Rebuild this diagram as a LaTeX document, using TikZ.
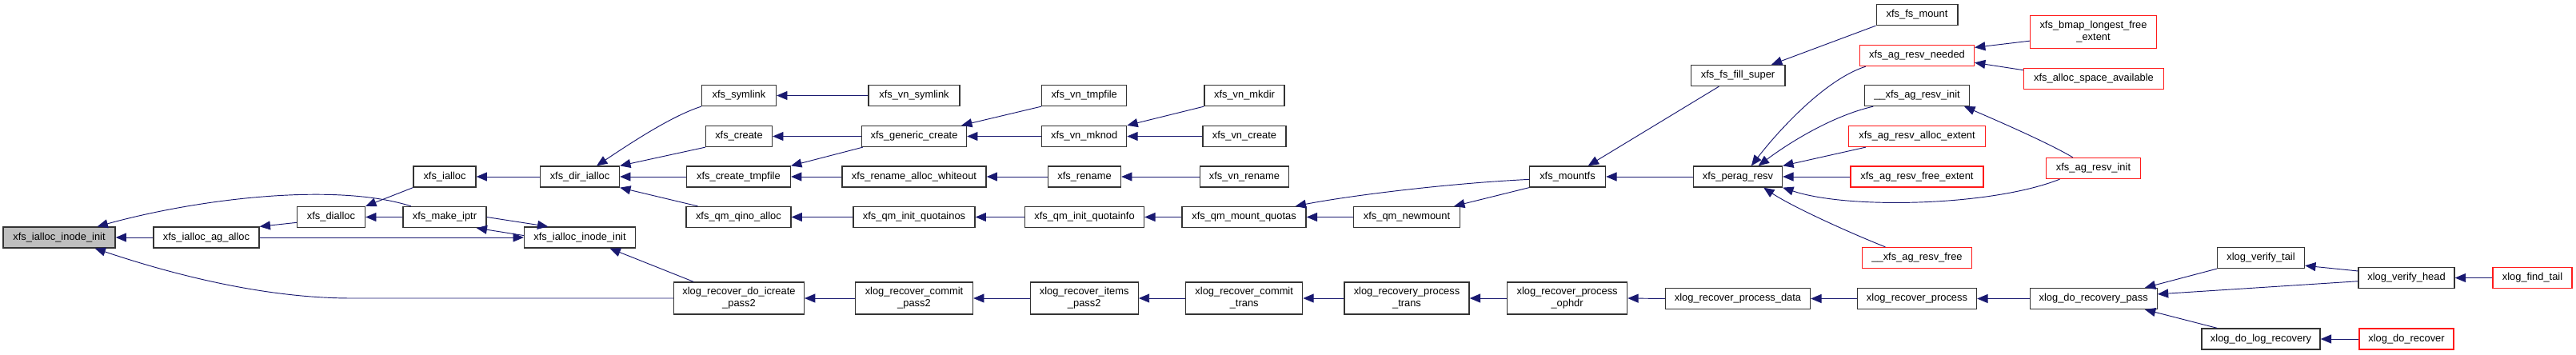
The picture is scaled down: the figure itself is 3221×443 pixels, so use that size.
\documentclass[tikz,border=0pt]{standalone}
\usepackage{fontspec}
\setmainfont{Liberation Sans}
\usetikzlibrary{arrows.meta}
\definecolor{callblue}{HTML}{191970}
\definecolor{nodered}{HTML}{FF1A1A}
\definecolor{nodegray}{HTML}{BFBFBF}
\begin{document}
\begin{tikzpicture}[x=0.03cm, y=-0.03cm,
  fnbox/.style={draw=black!80, fill=white, line width=1.1pt, inner sep=0pt, minimum height=0.78cm, align=center, font=\fontsize{11}{12.8}\selectfont},
  fnred/.style={fnbox, draw=nodered},
  fnmain/.style={fnbox, fill=nodegray},
  calls/.style={{Triangle[length=0.4cm,width=0.33cm]}-, draw=callblue, line width=0.8pt}]
\useasboundingbox (0,0) rectangle (3221,443);
% inode init and its direct callers
\node[fnmain, minimum width=4.2cm] (init) at (74,297) {xfs\_ialloc\_inode\_init};
\node[fnbox, minimum width=3.96cm] (agalloc) at (258,297) {xfs\_ialloc\_ag\_alloc};
\node[fnbox, minimum width=2.55cm] (dialloc) at (414,271.5) {xfs\_dialloc};
\node[fnbox, minimum width=2.34cm] (ialloc) at (556,221) {xfs\_ialloc};
\node[fnbox, minimum width=3.12cm] (makeiptr) at (556,271.5) {xfs\_make\_iptr};
\node[fnbox, minimum width=4.17cm] (initb) at (725,297) {xfs\_ialloc\_inode\_init};
\node[fnbox, minimum width=2.97cm] (dirialloc) at (725,221) {xfs\_dir\_ialloc};
% create / rename column
\node[fnbox, minimum width=2.79cm] (symlink) at (924,119.5) {xfs\_symlink};
\node[fnbox, minimum width=2.49cm] (create) at (924,170.5) {xfs\_create};
\node[fnbox, minimum width=3.9cm] (createtmp) at (923.4,221) {xfs\_create\_tmpfile};
\node[fnbox, minimum width=3.93cm] (qinoalloc) at (923.4,271.5) {xfs\_qm\_qino\_alloc};
\node[fnbox, minimum width=4.88cm, minimum height=1.2cm] (icreate) at (924,373) {xlog\_recover\_do\_icreate\\\_pass2};
\node[fnbox, minimum width=3.42cm] (vnsymlink) at (1143,119.5) {xfs\_vn\_symlink};
\node[fnbox, minimum width=3.93cm] (genericcreate) at (1143,170.5) {xfs\_generic\_create};
\node[fnbox, minimum width=5.4cm] (whiteout) at (1143,221) {xfs\_rename\_alloc\_whiteout};
\node[fnbox, minimum width=4.56cm] (quotainos) at (1143,271.5) {xfs\_qm\_init\_quotainos};
\node[fnbox, minimum width=4.41cm, minimum height=1.2cm] (commitpass2) at (1143,373) {xlog\_recover\_commit\\\_pass2};
\node[fnbox, minimum width=3.18cm] (vntmpfile) at (1355.7,119.5) {xfs\_vn\_tmpfile};
\node[fnbox, minimum width=3.18cm] (vnmknod) at (1355.7,170.5) {xfs\_vn\_mknod};
\node[fnbox, minimum width=2.73cm] (rename) at (1356,221) {xfs\_rename};
\node[fnbox, minimum width=4.47cm] (quotainfo) at (1356,271.5) {xfs\_qm\_init\_quotainfo};
\node[fnbox, minimum width=4.05cm, minimum height=1.2cm] (itemspass2) at (1355.7,373) {xlog\_recover\_items\\\_pass2};
\node[fnbox, minimum width=3cm] (vnmkdir) at (1556,119.5) {xfs\_vn\_mkdir};
\node[fnbox, minimum width=3.12cm] (vncreate) at (1556,170.5) {xfs\_vn\_create};
\node[fnbox, minimum width=3.33cm] (vnrename) at (1556,221) {xfs\_vn\_rename};
\node[fnbox, minimum width=4.65cm] (mountquotas) at (1555.5,271.5) {xfs\_qm\_mount\_quotas};
\node[fnbox, minimum width=4.38cm, minimum height=1.2cm] (committrans) at (1555.7,373) {xlog\_recover\_commit\\\_trans};
% mount and log recovery
\node[fnbox, minimum width=3.98cm] (newmount) at (1759,271.5) {xfs\_qm\_newmount};
\node[fnbox, minimum width=4.68cm, minimum height=1.2cm] (processtrans) at (1759,373) {xlog\_recovery\_process\\\_trans};
\node[fnbox, minimum width=2.85cm] (mountfs) at (1960,221) {xfs\_mountfs};
\node[fnbox, minimum width=4.5cm, minimum height=1.2cm] (ophdr) at (1959.6,373) {xlog\_recover\_process\\\_ophdr};
\node[fnbox, minimum width=3.53cm] (fillsuper) at (2173,94.5) {xfs\_fs\_fill\_super};
\node[fnbox, minimum width=3.33cm] (peragresv) at (2173,221) {xfs\_perag\_resv};
\node[fnbox, minimum width=5.43cm] (processdata) at (2173,373.5) {xlog\_recover\_process\_data};
\node[fnbox, minimum width=3.05cm] (fsmount) at (2397,18.5) {xfs\_fs\_mount};
\node[fnred, minimum width=4.28cm] (resvneeded) at (2397,69.5) {xfs\_ag\_resv\_needed};
\node[fnbox, minimum width=3.93cm] (resvinitu) at (2397,119.5) {\_\_xfs\_ag\_resv\_init};
\node[fnred, minimum width=5.13cm] (allocextent) at (2397,170.5) {xfs\_ag\_resv\_alloc\_extent};
\node[fnred, minimum width=4.98cm] (freeextent) at (2397,221) {xfs\_ag\_resv\_free\_extent};
\node[fnred, minimum width=4.1cm] (resvfree) at (2397,322.5) {\_\_xfs\_ag\_resv\_free};
\node[fnbox, minimum width=4.47cm] (recoverprocess) at (2397,373.5) {xlog\_recover\_process};
\node[fnred, minimum width=4.74cm, minimum height=1.23cm] (bmaplongest) at (2617.5,40) {xfs\_bmap\_longest\_free\\\_extent};
\node[fnred, minimum width=5.25cm] (allocspace) at (2618,98.5) {xfs\_alloc\_space\_available};
\node[fnred, minimum width=3.54cm] (resvinit) at (2617.5,210.5) {xfs\_ag\_resv\_init};
\node[fnbox, minimum width=4.77cm] (dorecoverypass) at (2617.7,373.5) {xlog\_do\_recovery\_pass};
\node[fnbox, minimum width=3.27cm] (verifytail) at (2827,322.5) {xlog\_verify\_tail};
\node[fnbox, minimum width=4.44cm] (dologrecovery) at (2827,424) {xlog\_do\_log\_recovery};
\node[fnbox, minimum width=3.6cm] (verifyhead) at (3009,347.5) {xlog\_verify\_head};
\node[fnred, minimum width=3.54cm] (dorecover) at (3009,424) {xlog\_do\_recover};
\node[fnred, minimum width=2.97cm] (findtail) at (3166.5,347.5) {xlog\_find\_tail};
% straight calls, callee on the left
\foreach \a/\b in {init/agalloc, dialloc/makeiptr, ialloc/dirialloc, dirialloc/createtmp, symlink/vnsymlink, create/genericcreate, createtmp/whiteout, qinoalloc/quotainos, icreate/commitpass2, genericcreate/vnmknod, whiteout/rename, quotainos/quotainfo, commitpass2/itemspass2, vnmknod/vncreate, rename/vnrename, quotainfo/mountquotas, itemspass2/committrans, mountquotas/newmount, committrans/processtrans, processtrans/ophdr, ophdr/processdata, mountfs/peragresv, peragresv/freeextent, processdata/recoverprocess, recoverprocess/dorecoverypass, verifyhead/findtail, dologrecovery/dorecover}
  \draw[calls] (\a.east) -- (\b.west);
% slanted and curved calls
\draw[calls] (init.16) .. controls (250,248) and (420,228) .. (makeiptr.162);
\draw[calls] (init.-17) .. controls (215,343) and (330,373) .. (440,373) -- (icreate.west);
\draw[calls] (initb.west) -- (agalloc.east);
\draw[calls] (agalloc.north east) -- (dialloc.189);
\draw[calls] (dialloc.north east) -- (ialloc.south west);
\draw[calls] (initb.161) -- (makeiptr.east);
\draw[calls] (makeiptr.-19) -- (initb.178);
\draw[calls] (dirialloc.33) .. controls (790,178) and (840,145) .. (symlink.south west);
\draw[calls] (dirialloc.north east) -- (create.south west);
\draw[calls] (dirialloc.south east) -- (qinoalloc.165);
\draw[calls] (initb.-20) -- (icreate.160);
\draw[calls] (createtmp.north east) -- (genericcreate.192);
\draw[calls] (genericcreate.13) -- (vntmpfile.south west);
\draw[calls] (vnmknod.north east) -- (vnmkdir.south west);
\draw[calls] (mountquotas.12) .. controls (1680,246) and (1800,230) .. (mountfs.184);
\draw[calls] (newmount.13) -- (mountfs.south west);
\draw[calls] (mountfs.28) -- (fillsuper.210);
\draw[calls] (fillsuper.18) -- (fsmount.south west);
\draw[calls] (peragresv.39) .. controls (2220,168) and (2280,100) .. (resvneeded.192);
\draw[calls] (peragresv.28) .. controls (2235,180) and (2290,145) .. (resvinitu.194);
\draw[calls] (peragresv.north east) -- (allocextent.192);
\draw[calls] (peragresv.south east) .. controls (2310,262) and (2490,258) .. (resvinit.198);
\draw[calls] (peragresv.-23) .. controls (2240,258) and (2310,290) .. (resvfree.161);
\draw[calls] (resvneeded.8) -- (bmaplongest.188);
\draw[calls] (resvneeded.-7) -- (allocspace.173);
\draw[calls] (resvinitu.-13) .. controls (2495,150) and (2560,178) .. (resvinit.152);
\draw[calls] (dorecoverypass.12) -- (verifytail.south west);
\draw[calls] (dorecoverypass.4) -- (verifyhead.184);
\draw[calls] (dorecoverypass.-12) -- (dologrecovery.166);
\draw[calls] (verifytail.-10) -- (verifyhead.172);
\end{tikzpicture}
\end{document}
